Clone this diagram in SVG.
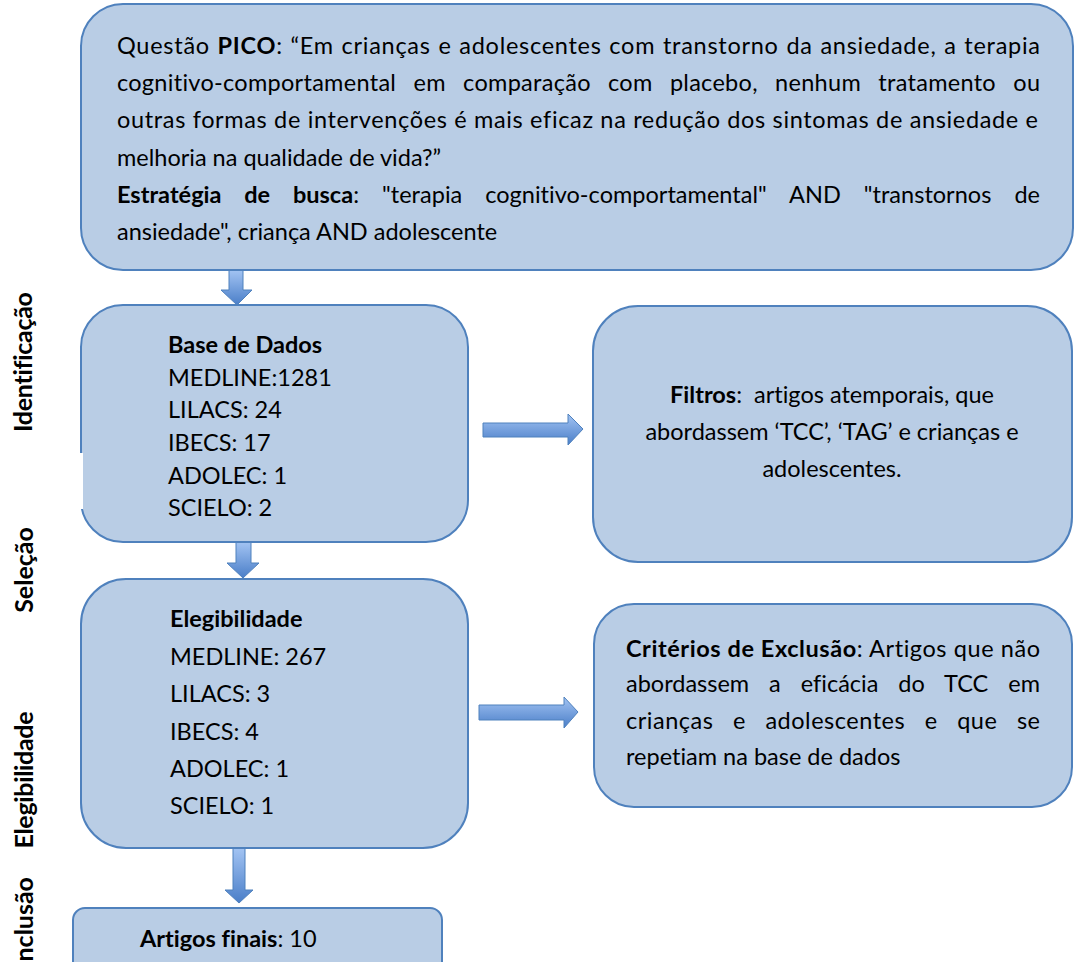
<svg xmlns="http://www.w3.org/2000/svg" width="1075" height="962" viewBox="0 0 1075 962">
<defs>
<linearGradient id="ag" x1="0" y1="0" x2="0" y2="1">
<stop offset="0" stop-color="#a3c4f3"/>
<stop offset="1" stop-color="#4a7ec8"/>
</linearGradient>
<style>
.box{fill:#b9cde5;stroke:#4f81bd;stroke-width:2}
.t{font-family:Lato,"Open Sans","Liberation Sans",sans-serif;font-size:23.5px;fill:#000;font-variant-ligatures:none}
.b{font-weight:bold}
.side{font-family:Lato,"Open Sans","Liberation Sans",sans-serif;font-size:25px;font-weight:bold;fill:#000;font-variant-ligatures:none}
.arr{fill:url(#ag);stroke:#4f81bd;stroke-width:1}
</style>
</defs>
<rect width="1075" height="962" fill="#ffffff"/>

<g id="side-labels">
<text class="side" transform="translate(32,362) rotate(-90)" text-anchor="middle" textLength="140" lengthAdjust="spacing">Identificação</text>
<text class="side" transform="translate(33,570) rotate(-90)" text-anchor="middle">Seleção</text>
<text class="side" transform="translate(33,780) rotate(-90)" text-anchor="middle" textLength="137" lengthAdjust="spacing">Elegibilidade</text>
<text class="side" transform="translate(33,877) rotate(-90)" text-anchor="end">nclusão</text>
</g>

<g id="connectors">
<path class="arr" d="M229,270 H243 V290 H252 L237,305 L221,290 H229 Z"/>
<path class="arr" d="M236,542 H251 V563 H259 L243,578 L227,563 H236 Z"/>
<path class="arr" d="M233,848 H245 V890 H253 L239,903 L225,890 H233 Z"/>
<path class="arr" d="M483,423 H568 V414 L583,429 L568,445 V437 H483 Z"/>
<path class="arr" d="M479,705 H564 V697 L578,712 L564,728 V720 H479 Z"/>
</g>

<g id="node-pico">
<rect class="box" x="81" y="4" width="992" height="266" rx="42" ry="42"/>
<text class="t" x="117" y="54" textLength="923" lengthAdjust="spacing" word-spacing="1">Questão <tspan class="b">PICO</tspan>: “Em crianças e adolescentes com transtorno da ansiedade, a terapia</text>
<text class="t" x="117" y="91" textLength="923" lengthAdjust="spacing" word-spacing="11">cognitivo-comportamental em comparação com placebo, nenhum tratamento ou</text>
<text class="t" x="117" y="128" textLength="921" lengthAdjust="spacing">outras formas de intervenções é mais eficaz na redução dos sintomas de ansiedade e</text>
<text class="t" x="117" y="166">melhoria na qualidade de vida?”</text>
<text class="t" x="117" y="203" textLength="923" lengthAdjust="spacing" word-spacing="17"><tspan class="b">Estratégia de busca</tspan>: "terapia cognitivo-comportamental" AND "transtornos de</text>
<text class="t" x="117" y="240">ansiedade", criança AND adolescente</text>
</g>

<g id="node-base">
<rect class="box" x="81" y="305" width="387" height="237" rx="42" ry="42"/>
<rect x="79" y="453" width="4" height="56" fill="#ffffff"/>
<text class="t b" x="168" y="353">Base de Dados</text>
<text class="t" x="168" y="386">MEDLINE:1281</text>
<text class="t" x="168" y="418">LILACS: 24</text>
<text class="t" x="168" y="451">IBECS: 17</text>
<text class="t" x="168" y="484">ADOLEC: 1</text>
<text class="t" x="168" y="516">SCIELO: 2</text>
</g>

<g id="node-filtros">
<rect class="box" x="593" y="306" width="479" height="256" rx="45" ry="45"/>
<text class="t" x="832" y="403" text-anchor="middle"><tspan class="b">Filtros</tspan>:&#160; artigos atemporais, que</text>
<text class="t" x="832" y="440" text-anchor="middle">abordassem ‘TCC’, ‘TAG’ e crianças e</text>
<text class="t" x="832" y="477" text-anchor="middle">adolescentes.</text>
</g>

<g id="node-elegibilidade">
<rect class="box" x="81" y="579" width="387" height="269" rx="45" ry="45"/>
<text class="t b" x="170" y="627">Elegibilidade</text>
<text class="t" x="170" y="665">MEDLINE: 267</text>
<text class="t" x="170" y="702">LILACS: 3</text>
<text class="t" x="170" y="740">IBECS: 4</text>
<text class="t" x="170" y="777">ADOLEC: 1</text>
<text class="t" x="170" y="814">SCIELO: 1</text>
</g>

<g id="node-criterios">
<rect class="box" x="594" y="604" width="478" height="203" rx="40" ry="40"/>
<text class="t" x="626" y="657" textLength="414" lengthAdjust="spacing"><tspan class="b">Critérios de Exclusão</tspan>: Artigos que não</text>
<text class="t" x="626" y="692" textLength="414" lengthAdjust="spacing" word-spacing="14">abordassem a eficácia do TCC em</text>
<text class="t" x="626" y="729" textLength="414" lengthAdjust="spacing" word-spacing="13">crianças e adolescentes e que se</text>
<text class="t" x="626" y="765">repetiam na base de dados</text>
</g>

<g id="node-final">
<rect class="box" x="73" y="908" width="369" height="70" rx="12" ry="12"/>
<text class="t" x="140" y="947"><tspan class="b">Artigos finais</tspan>: 10</text>
</g>
</svg>
